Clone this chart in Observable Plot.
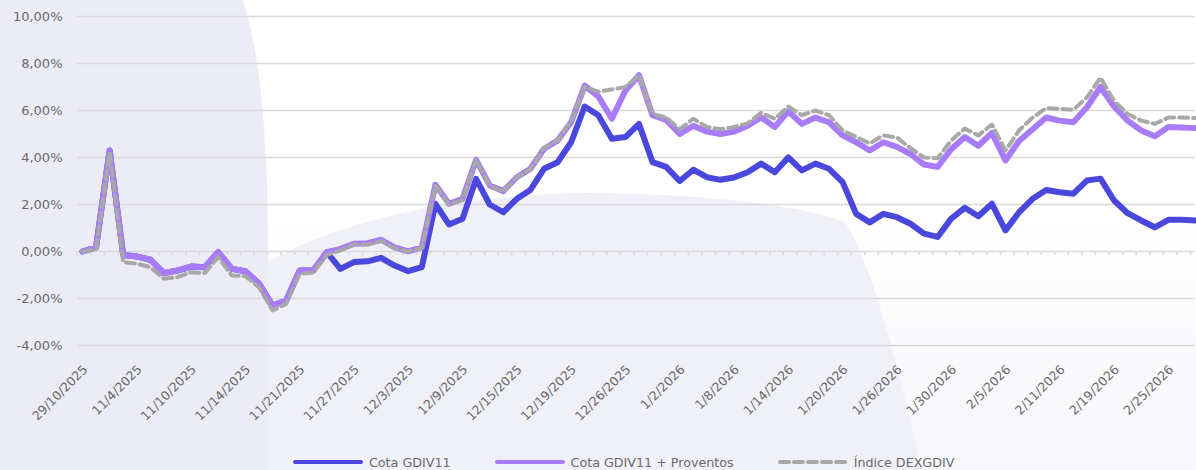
<!DOCTYPE html>
<html>
<head>
<meta charset="utf-8">
<script src="https://cdn.jsdelivr.net/npm/d3@7"></script>
<script src="https://cdn.jsdelivr.net/npm/@observablehq/plot@0.6"></script>
<style>
  html, body { margin: 0; padding: 0; background: #ffffff; }
  #wrap { position: relative; width: 1196px; height: 470px; overflow: hidden; font-family: "DejaVu Sans", sans-serif; }
  #bg { position: absolute; left: 0; top: 0; }
  #chart { position: absolute; left: 0; top: 0; }
  #legend { position: absolute; left: 293px; top: 452px; height: 20px; display: flex; align-items: center; gap: 44px; color: #6a6a6a; font-size: 12.7px; }
  .item { display: flex; align-items: center; gap: 6px; white-space: nowrap; }
</style>
</head>
<body>
<div id="wrap">
  <svg id="bg" width="1196" height="470" viewBox="0 0 1196 470">
    <defs>
      <linearGradient id="base" x1="0" y1="0" x2="0" y2="1">
        <stop offset="0.45" stop-color="#ffffff"/>
        <stop offset="1" stop-color="#f6f6fb"/>
      </linearGradient>
    </defs>
    <rect x="0" y="0" width="1196" height="470" fill="url(#base)"/>
    <path d="M268,262 C350,215 470,195 580,193 C700,193 800,205 845,222 C870,260 900,370 922,470 L268,470 Z" fill="#f0f0f8"/>
    <path d="M0,0 L243,0 C262,60 268,150 268,250 L268,470 L0,470 Z" fill="#ececf7"/>
  </svg>
  <div id="chart"></div>
  <div id="legend"></div>
</div>
<script>
const dates = [
  "29/10/2025","10/30/2025","10/31/2025","11/3/2025","11/4/2025","11/5/2025","11/6/2025","11/7/2025",
  "11/10/2025","11/11/2025","11/12/2025","11/13/2025","11/14/2025","11/17/2025","11/18/2025","11/19/2025",
  "11/21/2025","11/24/2025","11/25/2025","11/26/2025","11/27/2025","11/28/2025","12/1/2025","12/2/2025",
  "12/3/2025","12/4/2025","12/5/2025","12/8/2025","12/9/2025","12/10/2025","12/11/2025","12/12/2025",
  "12/15/2025","12/16/2025","12/17/2025","12/18/2025","12/19/2025","12/22/2025","12/23/2025","12/24/2025",
  "12/26/2025","12/29/2025","12/30/2025","12/31/2025","1/2/2026","1/5/2026","1/6/2026","1/7/2026",
  "1/8/2026","1/9/2026","1/12/2026","1/13/2026","1/14/2026","1/15/2026","1/16/2026","1/19/2026",
  "1/20/2026","1/21/2026","1/22/2026","1/23/2026","1/26/2026","1/27/2026","1/28/2026","1/29/2026",
  "1/30/2026","2/2/2026","2/3/2026","2/4/2026","2/5/2026","2/6/2026","2/9/2026","2/10/2026",
  "2/11/2026","2/12/2026","2/13/2026","2/18/2026","2/19/2026","2/20/2026","2/23/2026","2/24/2026",
  "2/25/2026","2/26/2026","2/27/2026"
];
const xTickLabels = [
  "29/10/2025","11/4/2025","11/10/2025","11/14/2025","11/21/2025","11/27/2025","12/3/2025",
  "12/9/2025","12/15/2025","12/19/2025","12/26/2025","1/2/2026","1/8/2026","1/14/2026",
  "1/20/2026","1/26/2026","1/30/2026","2/5/2026","2/11/2026","2/19/2026","2/25/2026"
];
const yTicks = [-4, -2, 0, 2, 4, 6, 8, 10];

const cota = [
  0.00, 0.18, 4.30, -0.15, -0.21, -0.35, -0.92, -0.81, -0.64, -0.67, -0.03, -0.74, -0.84, -1.37, -2.30, -2.09,
  -0.81, -0.81, -0.03, -0.74, -0.45, -0.42, -0.27, -0.60, -0.84, -0.67, 2.03, 1.15, 1.39, 3.09, 2.00, 1.67,
  2.24, 2.62, 3.52, 3.80, 4.65, 6.17, 5.80, 4.80, 4.87, 5.43, 3.80, 3.60, 3.00, 3.48, 3.16, 3.05,
  3.15, 3.37, 3.74, 3.37, 4.00, 3.45, 3.74, 3.52, 2.95, 1.60, 1.24, 1.60, 1.46, 1.18, 0.76, 0.62,
  1.40, 1.86, 1.50, 2.03, 0.90, 1.67, 2.24, 2.62, 2.52, 2.46, 3.02, 3.10, 2.17, 1.63, 1.32, 1.03,
  1.35, 1.35, 1.32
];
const cotaProventos = [
  0.00, 0.18, 4.30, -0.15, -0.21, -0.35, -0.92, -0.81, -0.64, -0.67, -0.03, -0.74, -0.84, -1.37, -2.30, -2.09,
  -0.81, -0.81, -0.03, 0.11, 0.33, 0.35, 0.50, 0.18, 0.01, 0.18, 2.84, 2.03, 2.24, 3.90, 2.81, 2.57,
  3.16, 3.52, 4.37, 4.72, 5.50, 7.06, 6.60, 5.65, 6.85, 7.50, 5.80, 5.60, 5.00, 5.35, 5.10, 5.00,
  5.10, 5.35, 5.70, 5.30, 5.97, 5.43, 5.70, 5.50, 4.94, 4.65, 4.30, 4.65, 4.45, 4.15, 3.70, 3.60,
  4.35, 4.87, 4.50, 5.05, 3.87, 4.70, 5.20, 5.70, 5.57, 5.50, 6.14, 7.00, 6.17, 5.57, 5.15, 4.90,
  5.30, 5.28, 5.25
];
const indice = [
  0.00, 0.10, 4.20, -0.45, -0.52, -0.67, -1.16, -1.09, -0.88, -0.92, -0.24, -1.02, -1.05, -1.52, -2.51, -2.23,
  -0.95, -0.90, -0.15, 0.05, 0.30, 0.30, 0.45, 0.15, 0.00, 0.15, 2.80, 2.00, 2.20, 3.90, 2.80, 2.55,
  3.15, 3.50, 4.40, 4.72, 5.55, 7.00, 6.80, 6.90, 7.00, 7.50, 5.85, 5.70, 5.20, 5.65, 5.30, 5.20,
  5.30, 5.45, 5.90, 5.65, 6.17, 5.80, 6.00, 5.80, 5.15, 4.87, 4.60, 4.94, 4.85, 4.40, 4.00, 3.97,
  4.72, 5.23, 4.94, 5.40, 4.30, 5.15, 5.70, 6.10, 6.07, 6.03, 6.56, 7.40, 6.40, 5.85, 5.57, 5.43,
  5.70, 5.70, 5.68
];
const seriesNames = ["Cota GDIV11", "Cota GDIV11 + Proventos", "Índice DEXGDIV"];
const seriesColors = ["#4a47dc", "#a87cf8", "#a8a8a8"];

const fmtPct = d => d.toFixed(2).replace(".", ",") + "%";

const chart = Plot.plot({
  width: 1196,
  height: 445,
  marginLeft: 77,
  marginRight: 1,
  marginTop: 16,
  marginBottom: 100,
  style: { background: "transparent", fontFamily: "'DejaVu Sans', sans-serif", color: "#6a6a6a" },
  x: { type: "point", domain: dates, padding: 0, insetLeft: 5, insetRight: 0 },
  y: { domain: [-4, 10] },
  marks: [
    Plot.gridY(yTicks, { stroke: "#d9d9d9", strokeOpacity: 1, strokeWidth: 1.5 }),
    Plot.ruleX(dates, { x: d => d, y1: 0, y2: 0, insetBottom: -4, dx: -5, stroke: "#d9d9d9", strokeWidth: 1.5 }),
    Plot.axisY(yTicks, { tickSize: 0, tickPadding: 15, tickFormat: fmtPct, fontSize: 13, fill: "#6a6a6a", letterSpacing: 0.5 }),
    Plot.axisX(xTickLabels, { tickSize: 0, tickPadding: 22, dx: 3, tickRotate: -45, fontSize: 12.5, fill: "#6a6a6a", letterSpacing: 0.5 }),
    Plot.line(dates, { x: d => d, y: (d, i) => cota[i], stroke: seriesColors[0], strokeWidth: 6, strokeLinejoin: "round", strokeLinecap: "round" }),
    Plot.line(dates, { x: d => d, y: (d, i) => cotaProventos[i], stroke: seriesColors[1], strokeWidth: 6, strokeLinejoin: "round", strokeLinecap: "round" }),
    Plot.line(dates, { x: d => d, y: (d, i) => indice[i], stroke: seriesColors[2], strokeWidth: 4, strokeDasharray: "9,5", strokeLinejoin: "round" })
  ]
});
document.getElementById("chart").appendChild(chart);

const legend = document.getElementById("legend");
seriesNames.forEach((name, k) => {
  const item = document.createElement("div");
  item.className = "item";
  const dash = k === 2 ? ' stroke-dasharray="9,5"' : '';
  item.innerHTML = `<svg width="70" height="8"><line x1="2" y1="4" x2="68" y2="4" stroke="${seriesColors[k]}" stroke-width="4" stroke-linecap="round"${dash}/></svg><span>${name}</span>`;
  legend.appendChild(item);
});
</script>
</body>
</html>
